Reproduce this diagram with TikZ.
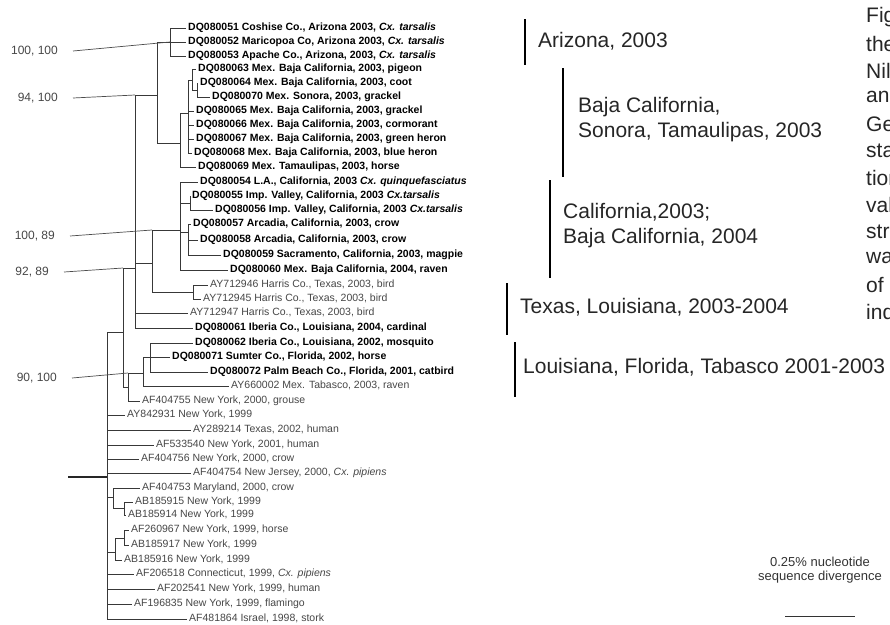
\documentclass[tikz,border=0pt]{standalone}
\usepackage{fontspec}
\setmainfont{Liberation Sans}
\usepackage{tikz}

\tikzset{
  branch/.style={draw=black!78, line width=0.8pt},
  tip/.style={anchor=west, inner xsep=2.5pt, inner ysep=0pt, text height=7.5pt, text depth=2pt,
    font=\fontsize{10.5}{12}\selectfont, text=black!72},
  dqtip/.style={tip, font=\fontsize{10.5}{12}\selectfont\bfseries, text=black},
  boot/.style={anchor=east, inner xsep=15pt, inner ysep=0pt, font=\fontsize{12}{14}\selectfont, text=black!72},
  bootline/.style={draw=black!70, line width=0.7pt},
  region/.style={anchor=west, inner sep=0pt, align=left, font=\fontsize{21}{25}\selectfont, text=black!85},
  regbar/.style={line width=2.5pt},
  capt/.style={anchor=west, inner sep=0pt, font=\fontsize{21}{25}\selectfont, text=black!85},
}

\begin{document}
\begin{tikzpicture}[x=1pt,y=-1pt]
  \fill[white] (0,0) rectangle (890,624);
  \useasboundingbox (0,0) rectangle (890,624);

  % inner nodes of the tree
  \coordinate (rootend) at (68,477);
  \coordinate (r) at (107,477);
  \coordinate (nD) at (123,332);
  \coordinate (nK) at (135,268);
  \coordinate (nJ) at (157,95);
  \coordinate (nA) at (170,42);
  \coordinate (nB) at (180,143);
  \coordinate (nR) at (188,113);
  \coordinate (nP) at (192,80);
  \coordinate (nQ) at (197,90);
  \coordinate (nL) at (152,263);
  \coordinate (nCal) at (180,230);
  \coordinate (nS) at (190,203);
  \coordinate (nT) at (188,232);
  \coordinate (nTx) at (193,292);
  \coordinate (nC) at (128,387);
  \coordinate (nB2) at (143,373);
  \coordinate (nA2) at (150,357);
  \coordinate (nE) at (113,497);
  \coordinate (nF) at (124,508);
  \coordinate (nG) at (115,552);
  \coordinate (nH) at (124,538);

  % Arizona
  \node[dqtip] (l51) at (185.5,28) {DQ080051 Coshise Co., Arizona 2003, \textit{Cx. tarsalis}};
  \node[dqtip] (l52) at (185.5,42) {DQ080052 Maricopoa Co, Arizona 2003, \textit{Cx. tarsalis}};
  \node[dqtip] (l53) at (185.5,56) {DQ080053 Apache Co., Arizona, 2003, \textit{Cx. tarsalis}};
  % Mexico
  \node[dqtip] (l63) at (195.5,69) {DQ080063 Mex. Baja California, 2003, pigeon};
  \node[dqtip] (l64) at (197.5,83) {DQ080064 Mex. Baja California, 2003, coot};
  \node[dqtip] (l70) at (209.5,97) {DQ080070 Mex. Sonora, 2003, grackel};
  \node[dqtip] (l65) at (193.5,111) {DQ080065 Mex. Baja California, 2003, grackel};
  \node[dqtip] (l66) at (193.5,125) {DQ080066 Mex. Baja California, 2003, cormorant};
  \node[dqtip] (l67) at (193.5,139) {DQ080067 Mex. Baja California, 2003, green heron};
  \node[dqtip] (l68) at (191.5,153) {DQ080068 Mex. Baja California, 2003, blue heron};
  \node[dqtip] (l69) at (195.5,167) {DQ080069 Mex. Tamaulipas, 2003, horse};
  % California
  \node[dqtip] (l54) at (197.5,182) {DQ080054 L.A., California, 2003 \textit{Cx. quinquefasciatus}};
  \node[dqtip] (l55) at (189.5,196) {DQ080055 Imp. Valley, California, 2003 \textit{Cx.tarsalis}};
  \node[dqtip] (l56) at (212.5,210) {DQ080056 Imp. Valley, California, 2003 \textit{Cx.tarsalis}};
  \node[dqtip] (l57) at (190.5,224) {DQ080057 Arcadia, California, 2003, crow};
  \node[dqtip] (l58) at (197.5,240) {DQ080058 Arcadia, California, 2003, crow};
  \node[dqtip] (l59) at (220.5,255) {DQ080059 Sacramento, California, 2003, magpie};
  \node[dqtip] (l60) at (227.5,270) {DQ080060 Mex. Baja California, 2004, raven};
  % Texas, Louisiana
  \node[tip] (a46) at (207.5,285) {AY712946 Harris Co., Texas, 2003, bird};
  \node[tip] (a45) at (200.5,299) {AY712945 Harris Co., Texas, 2003, bird};
  \node[tip] (a47) at (187.5,313) {AY712947 Harris Co., Texas, 2003, bird};
  \node[dqtip] (l61) at (192.5,328) {DQ080061 Iberia Co., Louisiana, 2004, cardinal};
  \node[dqtip] (l62) at (192.5,343) {DQ080062 Iberia Co., Louisiana, 2002, mosquito};
  \node[dqtip] (l71) at (169.5,357) {DQ080071 Sumter Co., Florida, 2002, horse};
  \node[dqtip] (l72) at (207.5,372) {DQ080072 Palm Beach Co., Florida, 2001, catbird};
  \node[tip] (a02) at (228.5,386) {AY660002 Mex. Tabasco, 2003, raven};
  % older strains
  \node[tip] (f55) at (139.5,401) {AF404755 New York, 2000, grouse};
  \node[tip] (y31) at (124.5,415) {AY842931 New York, 1999};
  \node[tip] (y14) at (190.5,430) {AY289214 Texas, 2002, human};
  \node[tip] (f40) at (153.5,445) {AF533540 New York, 2001, human};
  \node[tip] (f56) at (138.5,459) {AF404756 New York, 2000, crow};
  \node[tip] (f54) at (190.5,473) {AF404754 New Jersey, 2000, \textit{Cx. pipiens}};
  \node[tip] (f53) at (139.5,488) {AF404753 Maryland, 2000, crow};
  \node[tip] (b15) at (132.5,502) {AB185915 New York, 1999};
  \node[tip] (b14) at (125.5,515) {AB185914 New York, 1999};
  \node[tip] (f67) at (128.5,530) {AF260967 New York, 1999, horse};
  \node[tip] (b17) at (128.5,545) {AB185917 New York, 1999};
  \node[tip] (b16) at (121.5,560) {AB185916 New York, 1999};
  \node[tip] (f18) at (133.5,574) {AF206518 Connecticut, 1999, \textit{Cx. pipiens}};
  \node[tip] (f41) at (154.5,589) {AF202541 New York, 1999, human};
  \node[tip] (f35) at (131.5,604) {AF196835 New York, 1999, flamingo};
  \node[tip] (f64) at (186.5,619) {AF481864 Israel, 1998, stork};

  % branches
  \draw[line width=1.8pt, black!85] (rootend) -- (r);
  \foreach \p/\c in {r/nD, r/nE, r/nG, nD/nK, nD/nC, nK/nJ, nK/nL, nJ/nA, nJ/nB,
      nB/nR, nR/nP, nP/nQ, nL/nCal, nL/nTx, nCal/nS, nCal/nT, nC/nB2, nB2/nA2,
      nE/nF, nG/nH}
    \draw[branch] (\p) |- (\c);
  \foreach \p/\c in {nA/l51, nA/l52, nA/l53, nP/l63, nQ/l64, nQ/l70, nR/l65, nR/l66,
      nR/l67, nR/l68, nB/l69, nCal/l54, nCal/l60, nS/l55, nS/l56, nT/l57, nT/l58,
      nT/l59, nTx/a46, nTx/a45, nK/a47, nK/l61, nA2/l62, nA2/l71, nA2/l72, nB2/a02,
      nC/f55, r/y31, r/y14, r/f40, r/f56, r/f54, r/f18, r/f41, r/f35, r/f64,
      nE/f53, nF/b15, nF/b14, nG/b16, nH/f67, nH/b17}
    \draw[branch] (\p) |- (\c.west);

  % bootstrap values
  \node[boot] (bs1) at (73,51) {100, 100};
  \node[boot] (bs2) at (73,98) {94, 100};
  \node[boot] (bs3) at (70,236) {100, 89};
  \node[boot] (bs4) at (64,272) {92, 89};
  \node[boot] (bs5) at (72,378) {90, 100};
  \draw[bootline] (bs1.east) -- (nA);
  \draw[bootline] (bs2.east) -- (nK |- nJ);
  \draw[bootline] (bs3.east) -- (nL |- nCal);
  \draw[bootline] (bs4.east) -- (nD |- nK);
  \draw[bootline] (bs5.east) -- (nC |- nB2);

  % groups
  \draw[regbar] (525,19) -- (525,65);
  \node[region] (gAz) at (538,41) {Arizona, 2003};
  \draw[regbar] (563,68) -- (563,177);
  \node[region] (gBaja) at (578,120) {Baja California,\\Sonora, Tamaulipas, 2003};
  \draw[regbar] (550,180) -- (550,278);
  \node[region] (gCal) at (563,226) {California,2003;\\Baja California, 2004};
  \draw[regbar] (507,283) -- (507,335);
  \node[region] (gTx) at (520,307) {Texas, Louisiana, 2003-2004};
  \draw[regbar] (515,342) -- (515,397);
  \node[region] (gLa) at (523,367) {Louisiana, Florida, Tabasco 2001-2003};

  % caption, cut at the edge
  \foreach \w [count=\i] in {Fig,the,Nil,an,Ge,sta,tion,val,stra,wa,of,ind}
    \node[capt] (cap\i) at (866,{17+26.8*(\i-1)}) {\w};

  % scale bar
  \node[align=center, font=\fontsize{13}{14}\selectfont, text=black!80] (sbtext) at (820,570)
    {0.25\% nucleotide\\sequence divergence};
  \coordinate (sbL) at (785,616);
  \coordinate (sbR) at (855,616);
  \draw[line width=0.9pt, black!80] (sbL) -- (sbR);
\end{tikzpicture}
\end{document}
